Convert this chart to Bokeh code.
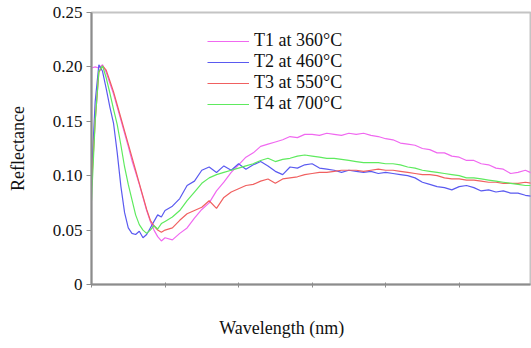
from bokeh.plotting import figure
from bokeh.models import FixedTicker, Legend, LegendItem, Range1d, CustomJSTickFormatter
from bokeh.embed import file_html
from bokeh.resources import INLINE

wavelength = [200, 205, 210, 215, 220, 225, 230, 235, 240, 245, 250, 255, 260, 265, 270, 275,
              280, 285, 290, 295, 300,
              310, 320, 330, 340, 350, 360, 370, 380, 390, 400, 410, 420, 430, 440, 450, 460,
              470, 480, 490, 500, 510, 520, 530, 540, 550, 560, 570, 580, 590, 600, 610, 620,
              630, 640, 650, 660, 670, 680, 690, 700, 710, 720, 730, 740, 750, 760, 770, 780,
              790, 800]

t1_360 = [0.199, 0.200, 0.199, 0.202, 0.195, 0.185, 0.175, 0.163, 0.151, 0.139, 0.127, 0.114,
          0.103, 0.092, 0.080, 0.068, 0.058, 0.050, 0.044, 0.040, 0.043,
          0.041, 0.047, 0.052, 0.061, 0.069, 0.075, 0.086, 0.094, 0.103, 0.110, 0.117, 0.121,
          0.127, 0.129, 0.131, 0.133, 0.136, 0.135, 0.138, 0.138, 0.137, 0.139, 0.138, 0.137,
          0.139, 0.138, 0.139, 0.137, 0.136, 0.134, 0.133, 0.130, 0.129, 0.128, 0.125, 0.124,
          0.121, 0.121, 0.118, 0.117, 0.114, 0.114, 0.111, 0.110, 0.107, 0.106, 0.102, 0.103,
          0.105, 0.102]

t2_460 = [0.100, 0.168, 0.202, 0.196, 0.180, 0.163, 0.148, 0.121, 0.090, 0.066, 0.052, 0.047,
          0.046, 0.049, 0.043, 0.046, 0.052, 0.058, 0.064, 0.062, 0.068,
          0.072, 0.079, 0.091, 0.095, 0.105, 0.108, 0.103, 0.109, 0.105, 0.111, 0.106, 0.110,
          0.113, 0.109, 0.104, 0.101, 0.108, 0.107, 0.110, 0.111, 0.107, 0.106, 0.105, 0.103,
          0.105, 0.104, 0.103, 0.104, 0.102, 0.103, 0.102, 0.101, 0.100, 0.098, 0.094, 0.092,
          0.090, 0.089, 0.087, 0.090, 0.091, 0.089, 0.086, 0.087, 0.085, 0.086, 0.084, 0.084,
          0.082, 0.081]

t3_550 = [0.090, 0.150, 0.195, 0.201, 0.197, 0.187, 0.177, 0.165, 0.153, 0.141, 0.129, 0.117,
          0.105, 0.093, 0.081, 0.069, 0.059, 0.054, 0.050, 0.048, 0.050,
          0.052, 0.059, 0.065, 0.068, 0.071, 0.077, 0.070, 0.080, 0.085, 0.088, 0.091, 0.092,
          0.095, 0.097, 0.093, 0.097, 0.098, 0.099, 0.101, 0.102, 0.103, 0.103, 0.104, 0.105,
          0.105, 0.105, 0.104, 0.105, 0.106, 0.105, 0.105, 0.104, 0.103, 0.102, 0.101, 0.101,
          0.100, 0.098, 0.097, 0.097, 0.096, 0.096, 0.095, 0.094, 0.094, 0.093, 0.093, 0.093,
          0.094, 0.093]

t4_700 = [0.077, 0.150, 0.196, 0.201, 0.190, 0.176, 0.161, 0.147, 0.128, 0.108, 0.092, 0.078,
          0.064, 0.055, 0.050, 0.047, 0.050, 0.054, 0.051, 0.056, 0.058,
          0.062, 0.068, 0.077, 0.085, 0.093, 0.098, 0.101, 0.103, 0.105, 0.107, 0.109, 0.111,
          0.114, 0.116, 0.113, 0.115, 0.116, 0.118, 0.119, 0.118, 0.117, 0.116, 0.116, 0.115,
          0.114, 0.113, 0.112, 0.112, 0.112, 0.111, 0.111, 0.110, 0.108, 0.107, 0.105, 0.104,
          0.103, 0.102, 0.101, 0.100, 0.098, 0.098, 0.097, 0.096, 0.095, 0.094, 0.093, 0.092,
          0.091, 0.091]

series_names = ["T1 at 360°C", "T2 at 460°C", "T3 at 550°C", "T4 at 700°C"]
series_values = [t1_360, t2_460, t3_550, t4_700]
series_colors = ["#f068f0", "#5a5af0", "#f06060", "#5eea5e"]

y_ticks = [0, 0.05, 0.10, 0.15, 0.20, 0.25]
y_tick_labels = ["0", "0.05", "0.10", "0.15", "0.20", "0.25"]
x_ticks = [200, 300, 400, 500, 600, 700, 800]
x_title = "Wavelength (nm)"
y_title = "Reflectance"

FONT = "Liberation Serif"

p = figure(width=531, height=348, output_backend="svg", toolbar_location=None,
           x_range=Range1d(200, 797), y_range=Range1d(0, 0.25),
           min_border_left=91, min_border_right=1, min_border_top=12, min_border_bottom=64)
p.background_fill_color = "white"
p.border_fill_color = "white"
p.outline_line_color = "#c4c4c4"
p.outline_line_width = 2
p.xgrid.visible = False
p.ygrid.visible = False

items = []
for name, vals, col in zip(series_names, series_values, series_colors):
    r = p.line(wavelength, vals, line_color=col, line_width=1.2)
    items.append(LegendItem(label=name, renderers=[r]))

legend = Legend(items=items, location=(116, 170), padding=0, margin=0, spacing=0,
                glyph_width=42, glyph_height=20, label_height=20, label_standoff=5,
                label_text_font=FONT, label_text_font_size="18px", label_text_color="#111111",
                background_fill_alpha=0, border_line_color=None)
p.add_layout(legend)

ya = p.yaxis[0]
ya.ticker = FixedTicker(ticks=y_ticks)
ya.major_label_overrides = {t: l for t, l in zip(y_ticks, y_tick_labels)}
ya.minor_tick_line_color = None
ya.major_tick_in = 0
ya.major_tick_out = 5
ya.axis_line_color = "#8c8c8c"
ya.axis_line_width = 2
ya.major_tick_line_color = "#8c8c8c"
ya.major_label_text_font = FONT
ya.major_label_text_font_size = "17px"
ya.major_label_text_color = "#111111"
ya.major_label_standoff = 4
ya.axis_label = y_title
ya.axis_label_text_font = FONT
ya.axis_label_text_font_size = "18px"
ya.axis_label_text_font_style = "normal"
ya.axis_label_text_color = "#111111"
ya.axis_label_standoff = 22

xa = p.xaxis[0]
xa.ticker = FixedTicker(ticks=x_ticks)
xa.formatter = CustomJSTickFormatter(code="return ''")
xa.minor_tick_line_color = None
xa.major_tick_in = 2
xa.major_tick_out = 3
xa.axis_line_color = "#8c8c8c"
xa.axis_line_width = 2
xa.major_tick_line_color = "#8c8c8c"
# trailing no-break spaces shift the centred label left, as in the reference
xa.axis_label = x_title + "\u00a0" * 13
xa.axis_label_text_font = FONT
xa.axis_label_text_font_size = "18px"
xa.axis_label_text_font_style = "normal"
xa.axis_label_text_color = "#111111"
xa.axis_label_standoff = 30

open("out.html", "w").write(file_html(p, INLINE))
